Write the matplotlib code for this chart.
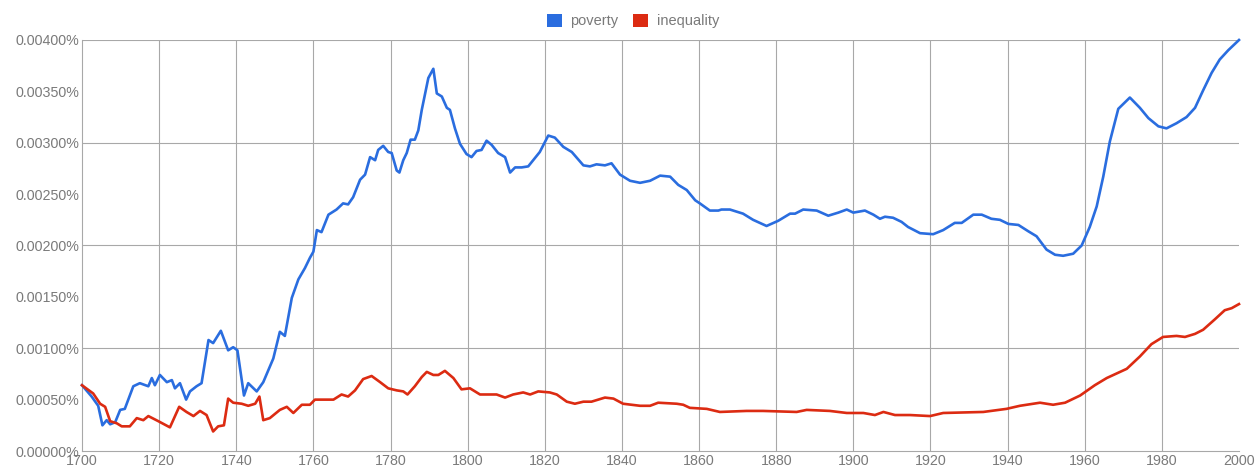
import numpy as np
import matplotlib
matplotlib.use("Agg")
import matplotlib.pyplot as plt
from matplotlib.patches import Patch

# ---------------- data (values in percent) ----------------
series_names = ["poverty", "inequality"]

poverty_years = [
    1700.0, 1702.5, 1704.2, 1705.3, 1706.4, 1707.3, 1708.6, 1709.9, 1711.1, 1713.3,
    1715.0, 1717.2, 1718.1, 1718.9, 1720.2, 1722.0, 1723.3, 1724.1, 1725.4, 1727.0,
    1728.0, 1729.7, 1731.0, 1732.8, 1734.0, 1736.0, 1737.9, 1739.2, 1740.3, 1742.0,
    1743.1, 1745.3, 1747.0, 1749.6, 1751.3, 1752.6, 1754.4, 1756.1, 1757.8, 1759.1,
    1760.0, 1760.9, 1762.1, 1763.9, 1766.0, 1767.7, 1769.0, 1770.3, 1772.1, 1773.4,
    1774.7, 1776.0, 1776.8, 1778.1, 1779.4, 1780.3, 1781.6, 1782.3, 1783.3, 1784.2,
    1785.2, 1786.3, 1787.2, 1788.1, 1789.8, 1791.1, 1792.0, 1793.3, 1794.6, 1795.4,
    1796.7, 1798.0, 1799.7, 1801.0, 1802.3, 1803.6, 1804.9, 1806.2, 1807.9, 1809.7,
    1811.0, 1812.3, 1814.0, 1815.7, 1817.4, 1818.7, 1820.9, 1822.6, 1824.8, 1827.0,
    1830.0, 1831.7, 1833.4, 1835.6, 1837.3, 1839.5, 1842.1, 1844.7, 1847.3, 1849.9,
    1852.5, 1854.6, 1856.8, 1859.0, 1860.2, 1862.8, 1865.0, 1865.8, 1868.0, 1871.4,
    1874.0, 1877.5, 1880.5, 1883.6, 1884.9, 1887.0, 1890.5, 1893.5, 1896.1, 1898.3,
    1900.0, 1903.0, 1905.2, 1906.9, 1908.2, 1910.3, 1912.5, 1914.2, 1917.3, 1920.7,
    1923.3, 1926.3, 1928.1, 1931.1, 1933.3, 1935.8, 1938.0, 1940.2, 1942.8, 1945.3,
    1947.5, 1950.1, 1952.3, 1954.4, 1957.0, 1959.2, 1961.3, 1963.1, 1964.8, 1966.5,
    1968.7, 1971.7, 1974.3, 1976.5, 1979.1, 1981.2, 1983.8, 1986.4, 1988.6, 1990.7,
    1992.9, 1995.0, 1997.2, 2000.0,
]
poverty_values = [
    0.00064, 0.00053, 0.00044, 0.00025, 0.00030, 0.00026, 0.00028, 0.00040, 0.00041, 0.00063,
    0.00066, 0.00063, 0.00071, 0.00064, 0.00074, 0.00067, 0.00069, 0.00061, 0.00066, 0.00050,
    0.00058, 0.00063, 0.00066, 0.00108, 0.00105, 0.00117, 0.00098, 0.00101, 0.00098, 0.00054,
    0.00066, 0.00058, 0.00067, 0.00090, 0.00116, 0.00112, 0.00149, 0.00167, 0.00178, 0.00188,
    0.00194, 0.00215, 0.00213, 0.00230, 0.00235, 0.00241, 0.00240, 0.00247, 0.00264, 0.00269,
    0.00286, 0.00283, 0.00293, 0.00297, 0.00291, 0.00290, 0.00273, 0.00271, 0.00283, 0.00290,
    0.00303, 0.00303, 0.00312, 0.00332, 0.00363, 0.00372, 0.00348, 0.00345, 0.00334, 0.00332,
    0.00314, 0.00299, 0.00289, 0.00286, 0.00292, 0.00293, 0.00302, 0.00298, 0.00290, 0.00286,
    0.00271, 0.00276, 0.00276, 0.00277, 0.00285, 0.00291, 0.00307, 0.00305, 0.00296, 0.00291,
    0.00278, 0.00277, 0.00279, 0.00278, 0.00280, 0.00269, 0.00263, 0.00261, 0.00263, 0.00268,
    0.00267, 0.00259, 0.00254, 0.00244, 0.00241, 0.00234, 0.00234, 0.00235, 0.00235, 0.00231,
    0.00225, 0.00219, 0.00224, 0.00231, 0.00231, 0.00235, 0.00234, 0.00229, 0.00232, 0.00235,
    0.00232, 0.00234, 0.00230, 0.00226, 0.00228, 0.00227, 0.00223, 0.00218, 0.00212, 0.00211,
    0.00215, 0.00222, 0.00222, 0.00230, 0.00230, 0.00226, 0.00225, 0.00221, 0.00220, 0.00214,
    0.00209, 0.00196, 0.00191, 0.00190, 0.00192, 0.00200, 0.00218, 0.00238, 0.00267, 0.00301,
    0.00333, 0.00344, 0.00334, 0.00324, 0.00316, 0.00314, 0.00319, 0.00325, 0.00334, 0.00351,
    0.00368, 0.00381, 0.00390, 0.00400,
]

inequality_years = [
    1700.0, 1702.9, 1704.7, 1706.0, 1707.3, 1709.0, 1710.3, 1712.4, 1714.2, 1715.9,
    1717.2, 1719.8, 1722.8, 1725.2, 1727.1, 1728.9, 1730.6, 1732.3, 1734.0, 1735.3,
    1736.8, 1737.9, 1739.2, 1741.4, 1743.1, 1744.9, 1746.0, 1747.0, 1748.7, 1751.3,
    1753.1, 1754.8, 1757.0, 1759.1, 1760.4, 1762.6, 1765.2, 1767.3, 1769.0, 1770.8,
    1772.9, 1775.1, 1777.3, 1779.4, 1781.6, 1783.3, 1784.4, 1786.3, 1788.1, 1789.4,
    1791.1, 1792.4, 1794.1, 1796.3, 1798.4, 1800.6, 1803.2, 1805.3, 1807.5, 1809.7,
    1811.8, 1814.4, 1816.2, 1818.3, 1821.3, 1823.1, 1825.7, 1827.8, 1830.0, 1832.1,
    1835.6, 1837.8, 1840.3, 1844.7, 1847.3, 1849.4, 1854.2, 1855.9, 1857.6, 1862.0,
    1865.4, 1872.3, 1876.6, 1885.3, 1887.9, 1893.9, 1898.3, 1902.6, 1905.6, 1907.8,
    1910.8, 1914.7, 1919.9, 1923.3, 1933.7, 1939.7, 1943.2, 1948.4, 1951.8, 1954.9,
    1958.8, 1962.6, 1965.7, 1970.9, 1974.3, 1977.3, 1980.3, 1983.8, 1986.0, 1988.6,
    1990.7, 1993.7, 1996.3, 1998.1, 2000.0,
]
inequality_values = [
    0.00064, 0.00056, 0.00046, 0.00043, 0.00029, 0.00027, 0.00024, 0.00024, 0.00032, 0.00030,
    0.00034, 0.00029, 0.00023, 0.00043, 0.00038, 0.00034, 0.00039, 0.00035, 0.00019, 0.00024,
    0.00025, 0.00051, 0.00047, 0.00046, 0.00044, 0.00046, 0.00053, 0.00030, 0.00032, 0.00040,
    0.00043, 0.00037, 0.00045, 0.00045, 0.00050, 0.00050, 0.00050, 0.00055, 0.00053, 0.00059,
    0.00070, 0.00073, 0.00067, 0.00061, 0.00059, 0.00058, 0.00055, 0.00063, 0.00072, 0.00077,
    0.00074, 0.00074, 0.00078, 0.00071, 0.00060, 0.00061, 0.00055, 0.00055, 0.00055, 0.00052,
    0.00055, 0.00057, 0.00055, 0.00058, 0.00057, 0.00055, 0.00048, 0.00046, 0.00048, 0.00048,
    0.00052, 0.00051, 0.00046, 0.00044, 0.00044, 0.00047, 0.00046, 0.00045, 0.00042, 0.00041,
    0.00038, 0.00039, 0.00039, 0.00038, 0.00040, 0.00039, 0.00037, 0.00037, 0.00035, 0.00038,
    0.00035, 0.00035, 0.00034, 0.00037, 0.00038, 0.00041, 0.00044, 0.00047, 0.00045, 0.00047,
    0.00054, 0.00064, 0.00071, 0.00080, 0.00092, 0.00104, 0.00111, 0.00112, 0.00111, 0.00114,
    0.00118, 0.00128, 0.00137, 0.00139, 0.00143,
]

x_ticks = list(range(1700, 2001, 20))
y_ticks = [0.0, 0.0005, 0.0010, 0.0015, 0.0020, 0.0025, 0.0030, 0.0035, 0.0040]
y_grid = [0.0010, 0.0020, 0.0030, 0.0040]

# ---------------- styling ----------------
BLUE = "#2a6ddf"
RED = "#dc2b12"
GRID = "#a8a8a8"
TEXT = "#7a7a7a"

plt.rcParams["font.family"] = ["Liberation Sans", "DejaVu Sans"]

fig = plt.figure(figsize=(12.57, 4.65), dpi=100)
ax = fig.add_axes([82 / 1257, 14 / 465, (1239 - 82) / 1257, (451 - 40) / 465])

ax.plot(poverty_years, poverty_values, color=BLUE, lw=1.9, solid_joinstyle="round",
        zorder=3, clip_on=False)
ax.plot(inequality_years, inequality_values, color=RED, lw=1.9, solid_joinstyle="round",
        zorder=3, clip_on=False)

ax.set_xlim(1700, 2000)
ax.set_ylim(0, 0.004)

ax.set_xticks(x_ticks)
ax.set_xticklabels([str(t) for t in x_ticks])
ax.set_yticks(y_ticks)
ax.set_yticklabels([f"{v:.5f}%" for v in y_ticks])
ax.yaxis.remove_overlapping_locs = False
ax.set_yticks(y_grid, minor=True)

ax.tick_params(axis="both", which="both", length=0, colors=TEXT, labelsize=10.3)
ax.tick_params(axis="x", pad=2)
ax.tick_params(axis="y", pad=2)

ax.grid(axis="x", which="major", color=GRID, lw=0.8)
ax.grid(axis="y", which="minor", color=GRID, lw=0.8)
ax.xaxis.get_gridlines()[-1].set_visible(False)
ax.xaxis.get_gridlines()[0].set_visible(False)

for s in ["top", "right"]:
    ax.spines[s].set_visible(False)
for s in ["left", "bottom"]:
    ax.spines[s].set_color(GRID)
    ax.spines[s].set_linewidth(0.8)
ax.set_axisbelow(True)

handles = [Patch(facecolor=BLUE, edgecolor="none", label=series_names[0]),
           Patch(facecolor=RED, edgecolor="none", label=series_names[1])]
leg = fig.legend(handles=handles, loc="center", bbox_to_anchor=(633 / 1257, 1 - 21 / 465),
                 ncol=2, frameon=False, handlelength=1.05, handleheight=1.05,
                 handletextpad=0.55, columnspacing=1.0, fontsize=10.5)
for t in leg.get_texts():
    t.set_color(TEXT)

fig.savefig("out.png", dpi=100)
